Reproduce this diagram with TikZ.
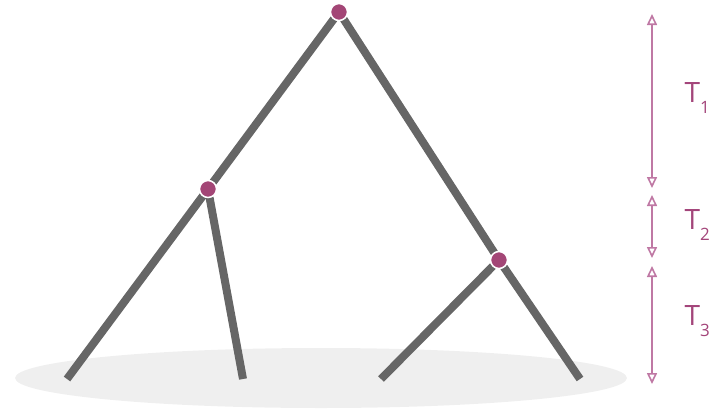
\documentclass[tikz,border=0pt]{standalone}
\usepackage{fontspec}
\setmainfont{Open Sans}
\usetikzlibrary{arrows.meta}
\definecolor{branchgrey}{HTML}{666666}
\definecolor{groundgrey}{HTML}{EFEFEF}
\definecolor{splitpink}{HTML}{A34676}
\definecolor{spanpink}{HTML}{BF78A4}
\definecolor{labelpink}{HTML}{A3457A}

\tikzset{
  split/.style={circle, fill=splitpink, draw=white, line width=1.5pt,
        minimum size=17pt, inner sep=0pt, outer sep=0pt},
  branch/.style={draw=branchgrey, line width=8pt},
  span/.style={draw=spanpink, line width=2pt,
        {Triangle[open, length=11pt, width=10pt, line width=1.6pt]}-{Triangle[open, length=11pt, width=10pt, line width=1.6pt]}},
  spanlabel/.style={text=labelpink, font=\fontsize{28}{28}\selectfont, anchor=west}
}
\newcommand{\tname}[1]{T\raisebox{-0.4em}{\fontsize{17}{17}\selectfont #1}}

\begin{document}
\begin{tikzpicture}[x=1pt, y=-1pt]
  \useasboundingbox (0,0) rectangle (715,410);

  % ground
  \fill[groundgrey] (321,378) ellipse [x radius=306, y radius=30];

  % leaves and split points
  \coordinate (leafa) at (67,379);
  \coordinate (leafb) at (243,379);
  \coordinate (leafc) at (381,379);
  \coordinate (leafd) at (580,379);
  \node[split] (root) at (339,12) {};
  \node[split] (left) at (208,189) {};
  \node[split] (right) at (499,260) {};

  % branches
  \draw[branch] (root) -- (left);
  \draw[branch] (left) -- (leafa);
  \draw[branch] (left) -- (leafb);
  \draw[branch] (root) -- (right);
  \draw[branch] (right) -- (leafc);
  \draw[branch] (right) -- (leafd);
  \node[split] at (root) {};
  \node[split] at (left) {};
  \node[split] at (right) {};

  % time spans
  \coordinate (tatop) at (652,14);
  \coordinate (tabot) at (652,188);
  \coordinate (tbtop) at (652,195);
  \coordinate (tbbot) at (652,258);
  \coordinate (tctop) at (652,266);
  \coordinate (tcbot) at (652,384);
  \draw[span] (tatop) -- (tabot);
  \draw[span] (tbtop) -- (tbbot);
  \draw[span] (tctop) -- (tcbot);
  \node[spanlabel] (ta) at (681,98) {\tname{1}};
  \node[spanlabel] (tb) at (681,225) {\tname{2}};
  \node[spanlabel] (tc) at (681,321) {\tname{3}};
\end{tikzpicture}
\end{document}
